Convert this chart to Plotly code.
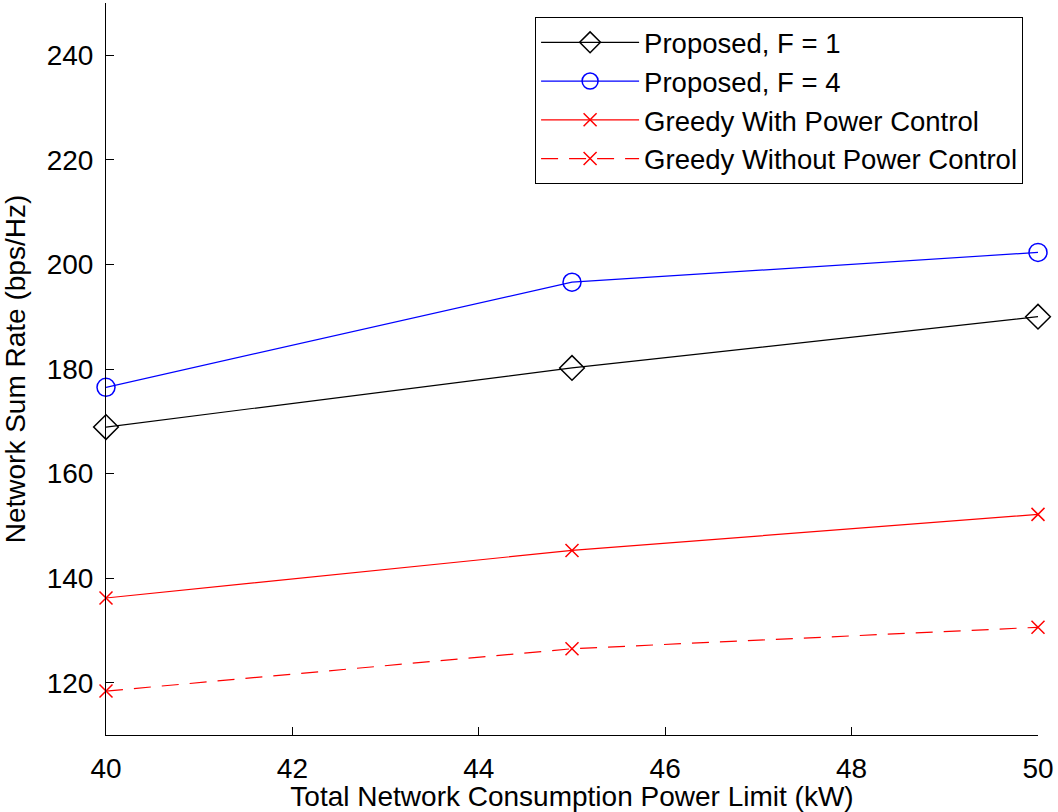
import plotly.graph_objects as go

power_kw = [40, 45, 50]
proposed_f1 = [168.9, 180.2, 190.0]
proposed_f4 = [176.5, 196.6, 202.3]
greedy_pc = [136.2, 145.3, 152.2]
greedy_nopc = [118.4, 126.5, 130.6]

x_ticks = [40, 42, 44, 46, 48, 50]
y_ticks = [120, 140, 160, 180, 200, 220, 240]

FONT = "Liberation Sans, Arial, Helvetica, sans-serif"

fig = go.Figure()
fig.add_trace(go.Scatter(
    x=power_kw, y=proposed_f1, mode="lines+markers", name="Proposed, F = 1",
    line=dict(color="black", width=1.2),
    marker=dict(symbol="diamond-open", size=19, color="black", line=dict(width=1.5)),
    cliponaxis=False))
fig.add_trace(go.Scatter(
    x=power_kw, y=proposed_f4, mode="lines+markers", name="Proposed, F = 4",
    line=dict(color="#0000ff", width=1.2),
    marker=dict(symbol="circle-open", size=18, color="#0000ff", line=dict(width=1.5)),
    cliponaxis=False))
fig.add_trace(go.Scatter(
    x=power_kw, y=greedy_pc, mode="lines+markers", name="Greedy With Power Control",
    line=dict(color="#ff0000", width=1.2),
    marker=dict(symbol="x-thin", size=13, color="#ff0000", line=dict(width=1.5, color="#ff0000")),
    cliponaxis=False))
fig.add_trace(go.Scatter(
    x=power_kw, y=greedy_nopc, mode="lines+markers", name="Greedy Without Power Control",
    line=dict(color="#ff0000", width=1.2, dash="17px,11px"),
    marker=dict(symbol="x-thin", size=13, color="#ff0000", line=dict(width=1.5, color="#ff0000")),
    cliponaxis=False))

fig.update_layout(
    width=1058, height=812,
    margin=dict(l=106, r=20, t=3, b=74),
    paper_bgcolor="white", plot_bgcolor="white",
    font=dict(family=FONT, size=28, color="black"),
    showlegend=True,
    legend=dict(
        x=0.984, y=0.981, xanchor="right", yanchor="top",
        bgcolor="white", bordercolor="black", borderwidth=1,
        font=dict(family=FONT, size=27.5, color="black"),
        itemwidth=98, tracegroupgap=0,
    ),
)
fig.update_xaxes(
    range=[40, 50], tickvals=x_ticks, ticktext=[str(v) for v in x_ticks],
    showgrid=False, zeroline=False, showline=True, linecolor="black", linewidth=1,
    ticks="inside", ticklen=8, tickcolor="black", tickwidth=1, mirror=False,
    ticklabelstandoff=8,
    title=dict(text="Total Network Consumption Power Limit (kW)", standoff=6,
               font=dict(family=FONT, size=28)),
)
fig.update_yaxes(
    range=[110, 250], tickvals=y_ticks, ticktext=[str(v) for v in y_ticks],
    showgrid=False, zeroline=False, showline=True, linecolor="black", linewidth=1,
    ticks="inside", ticklen=8, tickcolor="black", tickwidth=1, mirror=False,
    ticklabelstandoff=6,
    title=dict(text="Network Sum Rate (bps/Hz)", standoff=12,
               font=dict(family=FONT, size=28)),
)

fig.write_html("out.html")
